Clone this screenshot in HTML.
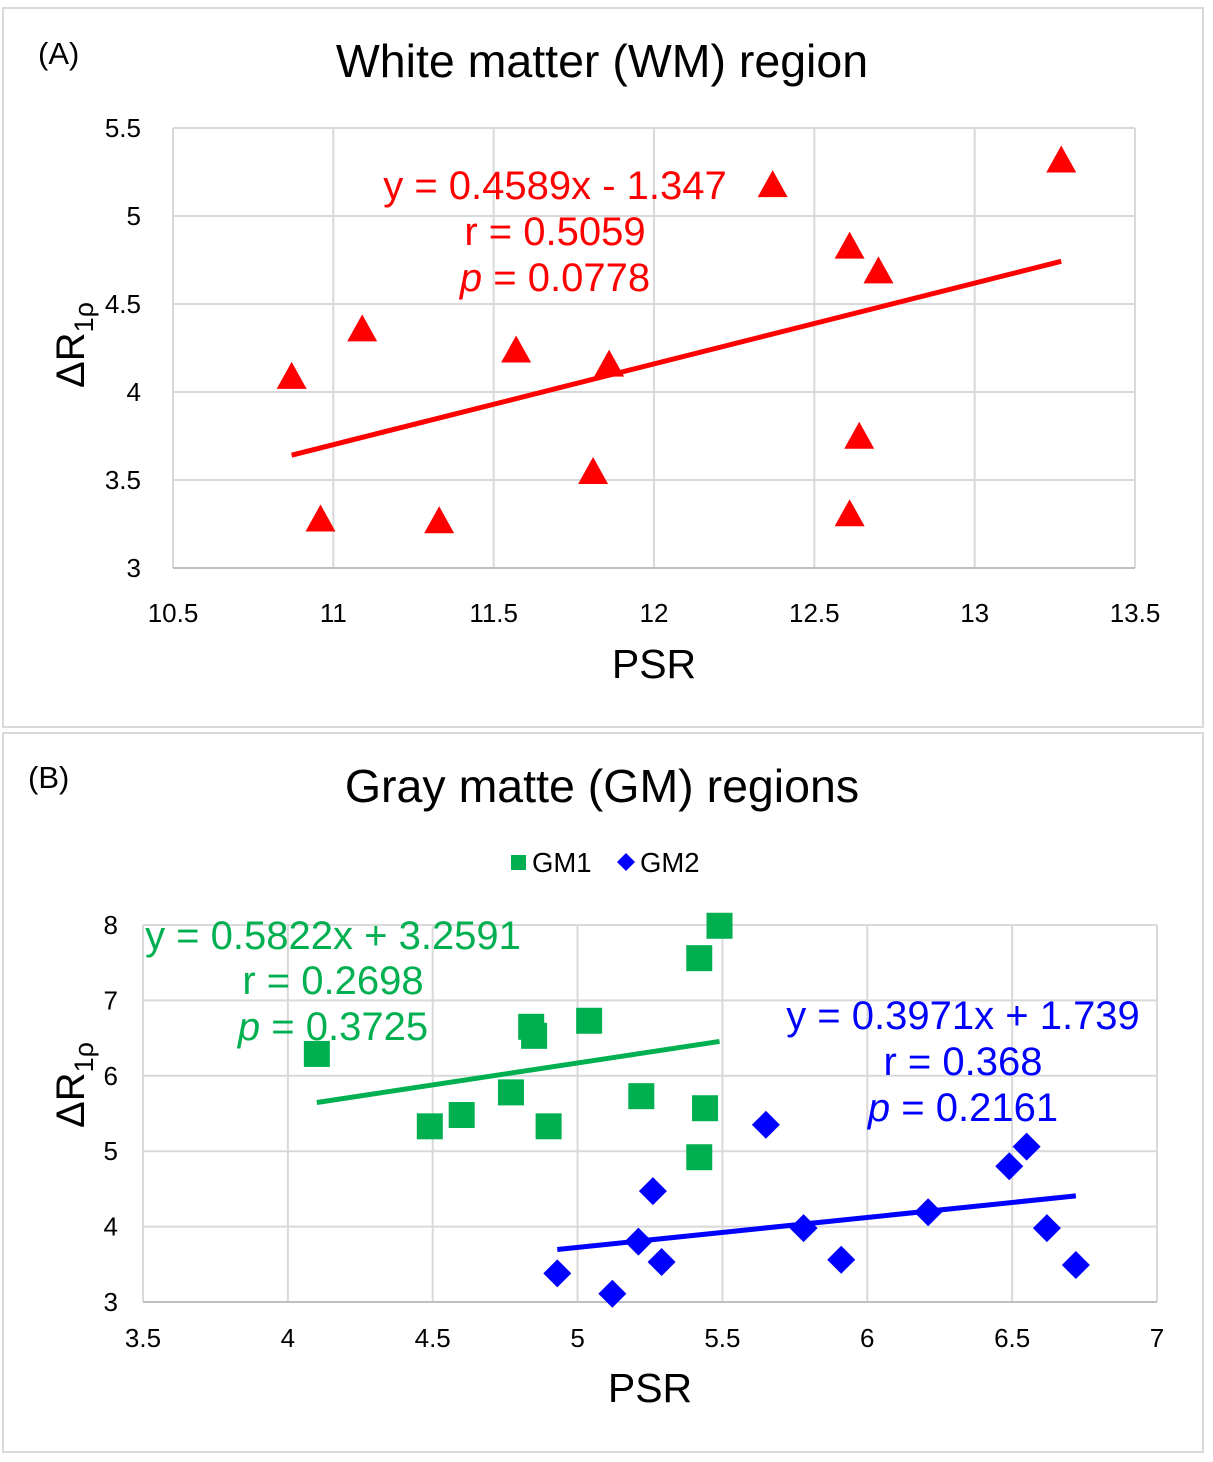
<!DOCTYPE html>
<html><head><meta charset="utf-8"><style>
body{margin:0;background:#fff;}
svg{display:block;font-family:"Liberation Sans",Arial,sans-serif;}
</style></head><body>
<svg id="s" width="1213" height="1462" viewBox="0 0 1213 1462" xmlns="http://www.w3.org/2000/svg">
<rect x="3" y="8" width="1200" height="719" fill="#fff" stroke="#d9d9d9" stroke-width="2"/>
<rect x="3" y="733" width="1200" height="719" fill="#fff" stroke="#d9d9d9" stroke-width="2"/>
<text x="38" y="64" font-size="31">(A)</text>
<text x="602" y="77" font-size="46.5" text-anchor="middle">White matter (WM) region</text>
<text x="28" y="788" font-size="31">(B)</text>
<text x="602" y="802" font-size="46.5" text-anchor="middle">Gray matte (GM) regions</text>
<g id="ga"></g><g id="gb"></g>
<text x="654" y="678" font-size="41" text-anchor="middle">PSR</text>
<text x="650" y="1402" font-size="41" text-anchor="middle">PSR</text>
<text transform="translate(84,345) rotate(-90)" font-size="40" text-anchor="middle">ΔR<tspan font-size="27" dy="9">1ρ</tspan></text>
<text transform="translate(84,1085) rotate(-90)" font-size="40" text-anchor="middle">ΔR<tspan font-size="27" dy="9">1ρ</tspan></text>
<g fill="#ff0000" font-size="40" text-anchor="middle">
<text x="555" y="199">y = 0.4589x - 1.347</text>
<text x="555" y="245">r = 0.5059</text>
<text x="555" y="291"><tspan font-style="italic">p</tspan> = 0.0778</text>
</g>
<g fill="#00b050" font-size="40" text-anchor="middle">
<text x="333" y="949">y = 0.5822x + 3.2591</text>
<text x="333" y="994">r = 0.2698</text>
<text x="333" y="1040"><tspan font-style="italic">p</tspan> = 0.3725</text>
</g>
<g fill="#0000ff" font-size="40" text-anchor="middle">
<text x="963" y="1029">y = 0.3971x + 1.739</text>
<text x="963" y="1075">r = 0.368</text>
<text x="963" y="1121"><tspan font-style="italic">p</tspan> = 0.2161</text>
</g>
<g font-size="27.5">
<rect x="511" y="855" width="15" height="15" fill="#00b050"/>
<text x="532" y="872">GM1</text>
<polygon points="626,853 635,862 626,871 617,862" fill="#0000ff"/>
<text x="640" y="872">GM2</text>
</g>
</svg>
<script>
const wmX=[10.87,11.09,10.96,11.33,11.57,11.86,11.81,12.37,12.61,12.70,12.64,12.61,13.27];
const wmY=[4.08,4.35,3.27,3.26,4.23,4.15,3.54,5.17,4.82,4.68,3.74,3.30,5.31];
const wmFit=[0.4589,-1.347];
const gm1X=[4.10,4.49,4.60,4.77,4.84,4.85,4.90,5.04,5.22,5.42,5.49,5.44,5.42];
const gm1Y=[6.29,5.33,5.48,5.78,6.65,6.53,5.33,6.73,5.73,7.56,7.99,5.57,4.92];
const gm1Fit=[0.5822,3.2591];
const gm2X=[4.93,5.12,5.21,5.26,5.29,5.65,5.78,5.91,6.21,6.49,6.55,6.62,6.72];
const gm2Y=[3.38,3.11,3.80,4.47,3.53,5.35,3.98,3.56,4.19,4.80,5.06,3.98,3.49];
const gm2Fit=[0.3971,1.739];
const aXTicks=["10.5","11","11.5","12","12.5","13","13.5"];
const aYTicks=["3","3.5","4","4.5","5","5.5"];
const bXTicks=["3.5","4","4.5","5","5.5","6","6.5","7"];
const bYTicks=["3","4","5","6","7","8"];
const NS="http://www.w3.org/2000/svg";
function mk(p,t,a){const e=document.createElementNS(NS,t);for(const k in a)e.setAttribute(k,a[k]);p.appendChild(e);return e;}
function axes(g,L,R,T,B,xt,yt,ylx,xly,sx,sy){
  yt.forEach(v=>{const y=sy(+v);
    const l=mk(g,'line',{x1:L,x2:R,y1:y,y2:y,stroke:'#d9d9d9','stroke-width':2});
    
    const t=mk(g,'text',{x:ylx,y:y+9,'font-size':26,'text-anchor':'end'});t.textContent=v;
    });
  xt.forEach(v=>{const x=sx(+v);
    const l=mk(g,'line',{x1:x,x2:x,y1:T,y2:B,stroke:'#d9d9d9','stroke-width':2});
    
    const t=mk(g,'text',{x:x,y:xly,'font-size':26,'text-anchor':'middle'});t.textContent=v;
    });
  const ax=mk(g,'line',{x1:L,x2:R,y1:B,y2:B,stroke:'#bfbfbf','stroke-width':2});
  
}
function fit(g,sx,sy,xs,f,col,name){
  const x0=Math.min(...xs),x1=Math.max(...xs);
  const l=mk(g,'line',{x1:sx(x0),x2:sx(x1),y1:sy(f[0]*x0+f[1]),y2:sy(f[0]*x1+f[1]),stroke:col,'stroke-width':5});
  
}
const ga=document.getElementById('ga');
const axA=v=>173+(v-10.5)*(1135-173)/3, ayA=v=>568-(v-3)*(568-128)/2.5;
axes(ga,173,1135,128,568,aXTicks,aYTicks,141,622,axA,ayA);
fit(ga,axA,ayA,wmX,wmFit,'#ff0000','wm-trendline');
wmX.forEach((x,i)=>{const cx=axA(x),cy=ayA(wmY[i]);
  const p=mk(ga,'polygon',{points:`${cx},${cy-16} ${cx+15},${cy+11} ${cx-15},${cy+11}`,fill:'#ff0000'});
  });
const gb=document.getElementById('gb');
const axB=v=>143+(v-3.5)*(1157-143)/3.5, ayB=v=>1302-(v-3)*(1302-925)/5;
axes(gb,143,1157,925,1302,bXTicks,bYTicks,118,1347,axB,ayB);
fit(gb,axB,ayB,gm1X,gm1Fit,'#00b050','gm1-trendline');
fit(gb,axB,ayB,gm2X,gm2Fit,'#0000ff','gm2-trendline');
gm1X.forEach((x,i)=>{const cx=axB(x),cy=ayB(gm1Y[i]);
  const r=mk(gb,'rect',{x:cx-13,y:cy-13,width:26,height:26,fill:'#00b050'});
  });
gm2X.forEach((x,i)=>{const cx=axB(x),cy=ayB(gm2Y[i]);
  const p=mk(gb,'polygon',{points:`${cx},${cy-14} ${cx+14},${cy} ${cx},${cy+14} ${cx-14},${cy}`,fill:'#0000ff'});
  });
</script>
</body></html>
